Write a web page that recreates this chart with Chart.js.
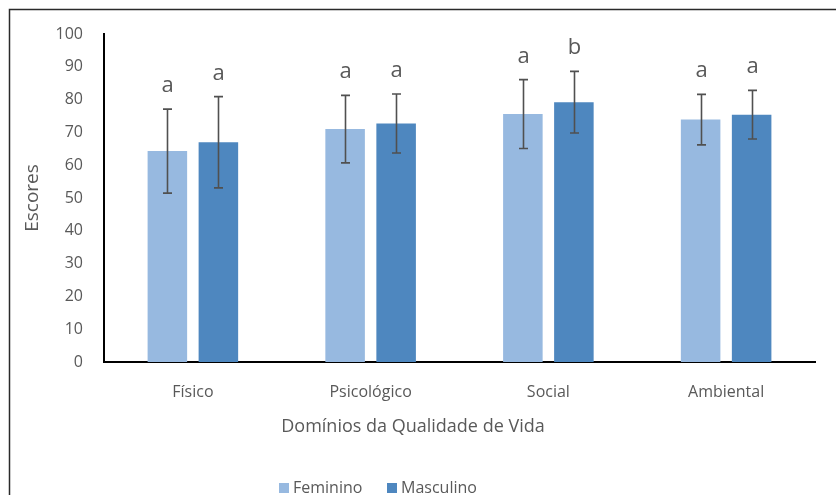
<!DOCTYPE html>
<html>
<head>
<meta charset="utf-8">
<script src="https://cdn.jsdelivr.net/npm/chart.js@4.4.1/dist/chart.umd.min.js"></script>
<style>
  html, body { margin: 0; padding: 0; background: #fff; }
  #wrap { position: relative; width: 836px; height: 495px; }
</style>
</head>
<body>
<div id="wrap"><canvas id="chart" width="836" height="495"></canvas></div>
<script>
// Domains of quality of life, mean scores by sex with standard deviations
const categories = ['Físico', 'Psicológico', 'Social', 'Ambiental'];
const feminino = [64.3, 71.0, 75.6, 73.9];
const masculino = [67.0, 72.7, 79.2, 75.4];
const femininoSD = [12.8, 10.3, 10.5, 7.7];
const masculinoSD = [13.9, 9.0, 9.4, 7.4];
const femininoLetters = ['a', 'a', 'a', 'a'];
const masculinoLetters = ['a', 'a', 'b', 'a'];
const yTicks = [0, 10, 20, 30, 40, 50, 60, 70, 80, 90, 100];

const FONT = '"Open Sans", "Liberation Sans", sans-serif';
const GREY = '#595959';
const COLORS = ['#97B9E0', '#4E87BF'];

const sdSets = [femininoSD, masculinoSD];
const letterSets = [femininoLetters, masculinoLetters];

// Error bars and significance letters on top of each bar
const errorBarPlugin = {
  id: 'errorBars',
  afterDatasetsDraw(chart) {
    const ctx = chart.ctx;
    const y = chart.scales.y;
    ctx.save();
    chart.data.datasets.forEach((ds, di) => {
      const meta = chart.getDatasetMeta(di);
      meta.data.forEach((bar, i) => {
        const v = ds.data[i];
        const sd = sdSets[di][i];
        const yTop = y.getPixelForValue(v + sd);
        const yBot = y.getPixelForValue(v - sd);
        const x = Math.round(bar.x) + 0.5;
        ctx.strokeStyle = '#505050';
        ctx.lineWidth = 1.6;
        ctx.beginPath();
        ctx.moveTo(x, yTop); ctx.lineTo(x, yBot);
        ctx.moveTo(x - 4.5, yTop); ctx.lineTo(x + 4.5, yTop);
        ctx.moveTo(x - 4.5, yBot); ctx.lineTo(x + 4.5, yBot);
        ctx.stroke();
        ctx.fillStyle = GREY;
        ctx.font = '22px ' + FONT;
        ctx.textAlign = 'center';
        ctx.textBaseline = 'alphabetic';
        ctx.fillText(letterSets[di][i], x, yTop - 17);
      });
    });
    ctx.restore();
  }
};

// Frame, axis titles and legend
const decorPlugin = {
  id: 'decor',
  afterDraw(chart) {
    const ctx = chart.ctx;
    const area = chart.chartArea;
    ctx.save();
    // outer frame (top and left edges)
    ctx.strokeStyle = '#2a2a2a';
    ctx.lineWidth = 1.5;
    ctx.beginPath();
    ctx.moveTo(9.5, 836); ctx.lineTo(9.5, 9.5); ctx.lineTo(836, 9.5);
    ctx.stroke();

    ctx.fillStyle = GREY;
    ctx.font = '18px ' + FONT;
    ctx.textAlign = 'center';
    ctx.textBaseline = 'middle';
    // y axis title
    ctx.save();
    ctx.translate(33, (area.top + area.bottom) / 2);
    ctx.rotate(-Math.PI / 2);
    ctx.font = '19px ' + FONT;
    ctx.fillText('Escores', 0, 0);
    ctx.restore();
    // x axis title
    ctx.fillText('Domínios da Qualidade de Vida', 413, 427);

    // legend
    ctx.font = '16px ' + FONT;
    ctx.textAlign = 'left';
    const items = [
      { label: 'Feminino', color: COLORS[0], x: 279 },
      { label: 'Masculino', color: COLORS[1], x: 387 }
    ];
    items.forEach(it => {
      ctx.fillStyle = it.color;
      ctx.fillRect(it.x, 483, 10, 10);
      ctx.fillStyle = GREY;
      ctx.fillText(it.label, it.x + 14, 488);
    });
    ctx.restore();
  }
};

new Chart(document.getElementById('chart'), {
  type: 'bar',
  data: {
    labels: categories,
    datasets: [
      { label: 'Feminino', data: feminino, backgroundColor: COLORS[0] },
      { label: 'Masculino', data: masculino, backgroundColor: COLORS[1] }
    ]
  },
  options: {
    responsive: false,
    animation: false,
    devicePixelRatio: 1,
    categoryPercentage: 0.574,
    barPercentage: 0.775,
    layout: { padding: { left: 0, right: 21, top: 34, bottom: 0 } },
    plugins: {
      legend: { display: false },
      tooltip: { enabled: false }
    },
    scales: {
      x: {
        grid: { display: false },
        border: { display: true, color: '#000', width: 2 },
        ticks: { color: GREY, font: { family: FONT, size: 16 }, padding: 13 },
        afterFit(scale) { scale.height = 133; }
      },
      y: {
        min: 0,
        max: 100,
        afterBuildTicks(scale) { scale.ticks = yTicks.map(v => ({ value: v })); },
        grid: { display: false },
        border: { display: true, color: '#000', width: 2 },
        ticks: { color: GREY, font: { family: FONT, size: 16 }, padding: 13 },
        afterFit(scale) { scale.width = 104; }
      }
    }
  },
  plugins: [errorBarPlugin, decorPlugin]
});
</script>
</body>
</html>
